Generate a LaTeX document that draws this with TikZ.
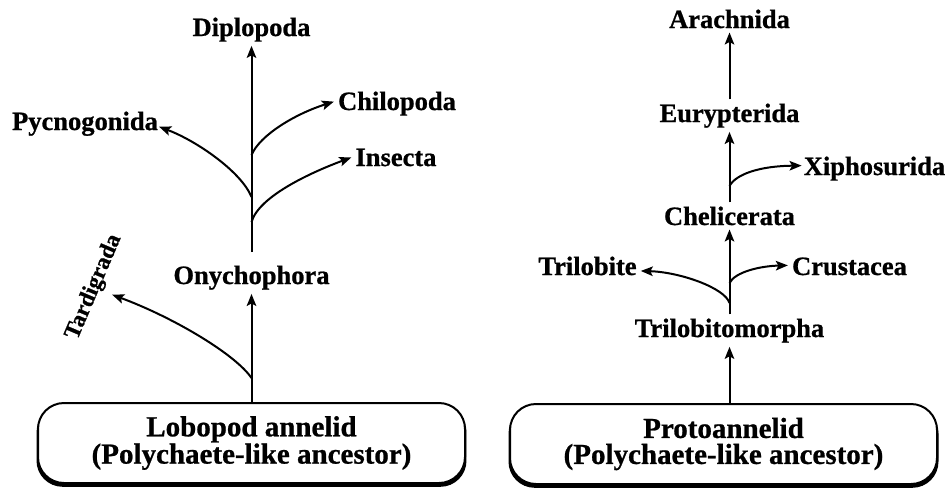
\documentclass[tikz,border=0pt]{standalone}
\usepackage{fontspec}
\setmainfont{Liberation Serif}[BoldFeatures={FakeBold=0.8}]
\usetikzlibrary{arrows.meta,shadows}
\begin{document}
\begin{tikzpicture}[x=1pt,y=-1pt,
  lab/.style={font=\fontsize{26.5}{28}\selectfont\bfseries, inner sep=4pt, anchor=base},
  arr/.style={line width=2pt, -{Stealth[length=12pt,width=9.5pt,inset=2.5pt]}},
  basebox/.style={draw, line width=2pt, rounded corners=26pt, fill=white,
    minimum width=427pt, minimum height=80pt, align=center,
    font=\fontsize{29}{26}\selectfont\bfseries,
    drop shadow={shadow xshift=0pt, shadow yshift=-3.5pt, shadow scale=1.007, fill=black, opacity=1}}]
\useasboundingbox (0,0) rectangle (948,491);

% ---------- left tree ----------
\node[basebox] (lbox) at (251.5,443) {Lobopod annelid\\(Polychaete-like ancestor)};
\node[lab] (ony) at (251.5,284) {Onychophora};
\node[lab] (dip) at (251.5,36) {Diplopoda};
\node[lab] (pyc) at (85,130) {Pycnogonida};
\node[lab] (chi) at (397,110) {Chilopoda};
\node[lab] (ins) at (396,166) {Insecta};
\node[font=\fontsize{23}{24}\selectfont\bfseries, inner sep=9pt, rotate=67] (tard) at (94,287) {Tardigrada};

\coordinate (tS) at (251.5,378);
\coordinate (L1) at (251.5,252);
\coordinate (pS) at (251.5,197);
\coordinate (cS) at (251.5,155);
\coordinate (iS) at (251.5,222);

\draw[arr] (lbox.north) -- (ony.south);
\draw[arr] (tS) .. controls (236,355) and (175,318) .. (tard.south);
\draw[arr] (L1) -- (dip.south);
\draw[arr] (pS) .. controls (241.5,172) and (197,141) .. ([xshift=-3pt,yshift=-3pt]pyc.east);
\draw[arr] (cS) .. controls (260,135) and (295,114) .. ([yshift=2pt]chi.west);
\draw[arr] (iS) .. controls (259,196) and (312,172) .. (ins.west);

% ---------- right tree ----------
\node[basebox] (rbox) at (723.5,444) {Protoannelid\\(Polychaete-like ancestor)};
\node[lab] (tmo) at (729.5,337) {Trilobitomorpha};
\node[lab] (che) at (729.5,225) {Chelicerata};
\node[lab] (eur) at (729.5,122) {Eurypterida};
\node[lab] (ara) at (729.5,28) {Arachnida};
\node[lab] (tri) at (587.5,275) {Trilobite};
\node[lab] (cru) at (849.5,275) {Crustacea};
\node[lab] (xip) at (874.5,175) {Xiphosurida};

\coordinate (trS) at (729.5,303);
\coordinate (crS) at (729.5,283);
\coordinate (xS) at (729.5,186);

\draw[arr] (tmo.south |- rbox.north) -- (tmo.south);
\draw[arr] (tmo.north) -- (che.south);
\draw[arr] (trS) .. controls (725,288) and (680,272) .. ([yshift=-5pt]tri.east);
\draw[arr] (crS) .. controls (735,272) and (760,266) .. ([yshift=1pt]cru.west);
\draw[arr] (che.north) -- (eur.south);
\draw[arr] (xS) .. controls (736,174) and (760,166) .. ([xshift=2pt,yshift=3pt]xip.west);
\draw[arr] (eur.north) -- (ara.south);
\end{tikzpicture}
\end{document}
